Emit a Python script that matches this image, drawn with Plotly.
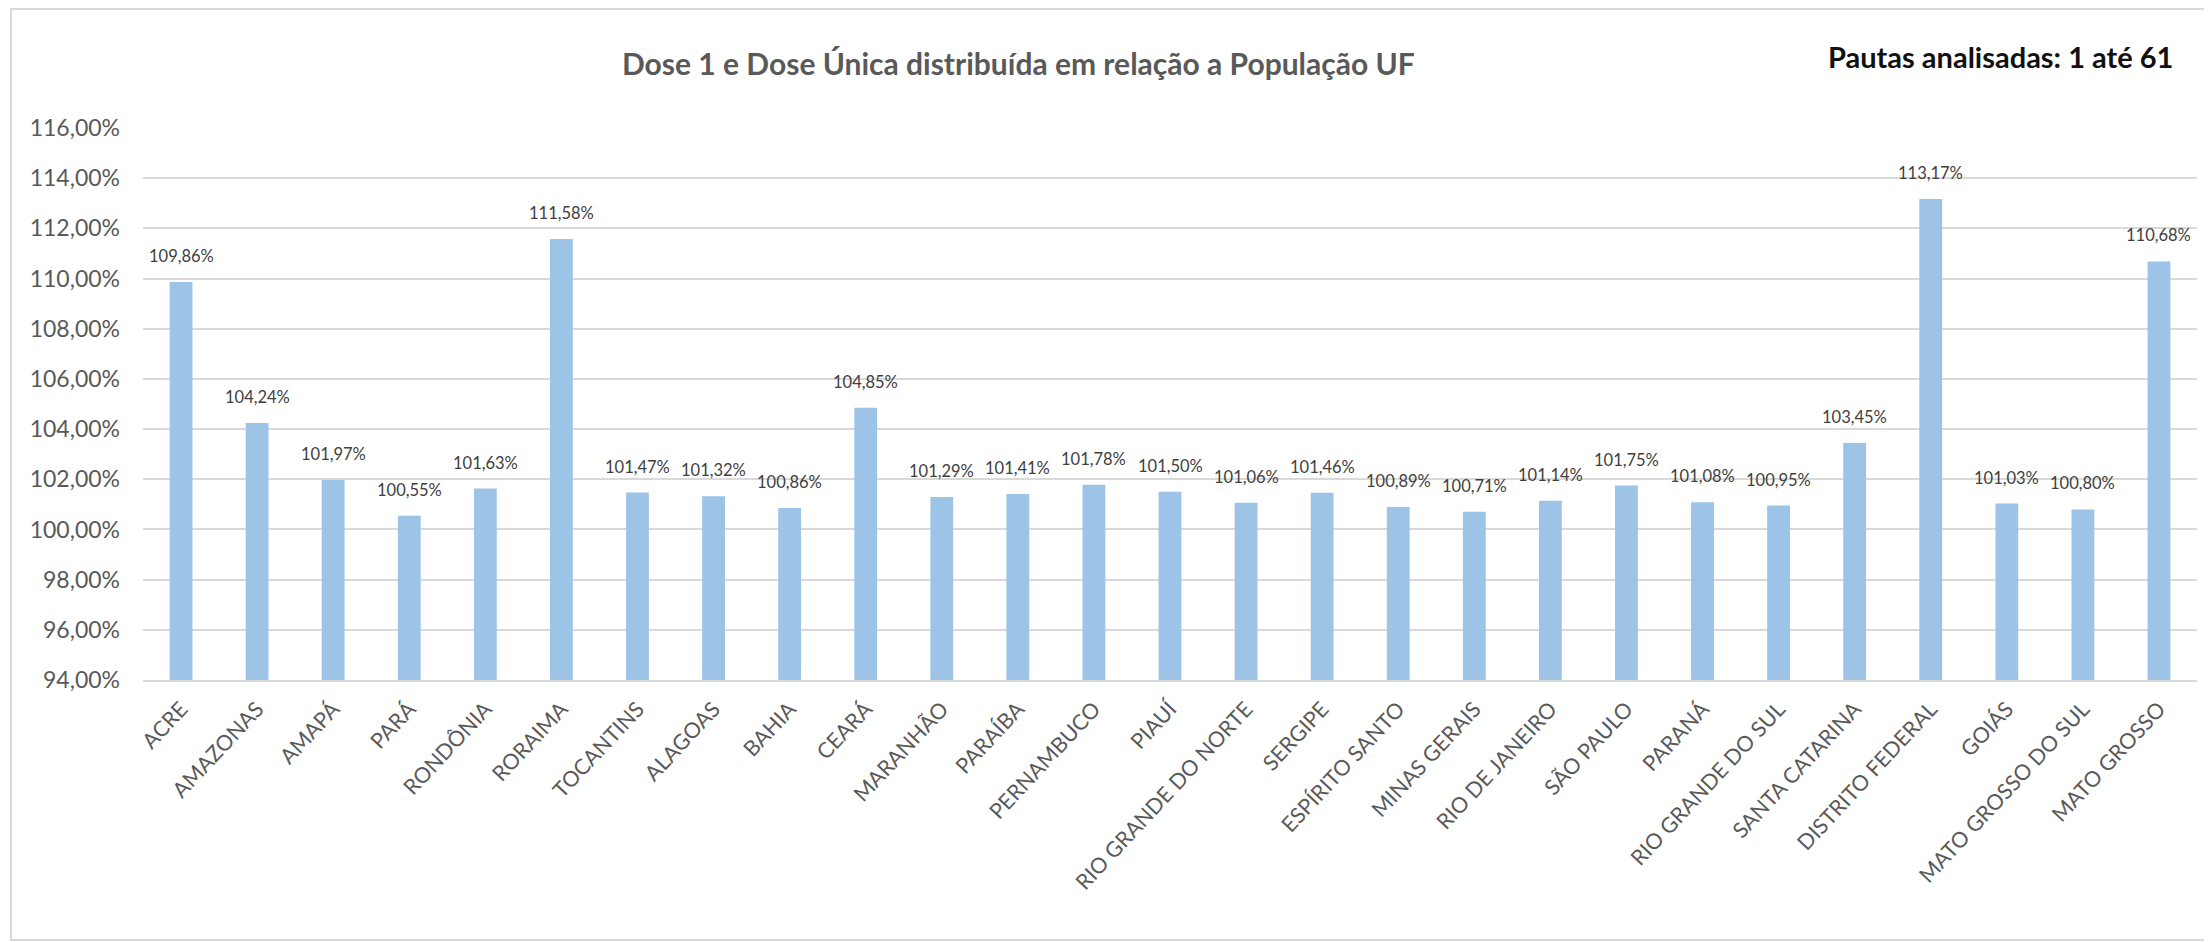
import plotly.graph_objects as go

categories = ["ACRE", "AMAZONAS", "AMAPÁ", "PARÁ", "RONDÔNIA", "RORAIMA", "TOCANTINS",
              "ALAGOAS", "BAHIA", "CEARÁ", "MARANHÃO", "PARAÍBA", "PERNAMBUCO", "PIAUÍ",
              "RIO GRANDE DO NORTE", "SERGIPE", "ESPÍRITO SANTO", "MINAS GERAIS",
              "RIO DE JANEIRO", "SÃO PAULO", "PARANÁ", "RIO GRANDE DO SUL",
              "SANTA CATARINA", "DISTRITO FEDERAL", "GOIÁS", "MATO GROSSO DO SUL",
              "MATO GROSSO"]
values = [109.86, 104.24, 101.97, 100.55, 101.63, 111.58, 101.47,
          101.32, 100.86, 104.85, 101.29, 101.41, 101.78, 101.50,
          101.06, 101.46, 100.89, 100.71,
          101.14, 101.75, 101.08, 100.95,
          103.45, 113.17, 101.03, 100.80,
          110.68]
y_ticks = [94, 96, 98, 100, 102, 104, 106, 108, 110, 112, 114, 116]
y_tick_labels = [f"{t:.2f}".replace(".", ",") + "%" for t in y_ticks]

title_text = "Dose 1 e Dose Única distribuída em relação a População UF"
note_text = "Pautas analisadas: 1 até 61"

OFF = 8  # page body margin
W, H = 2212 - OFF, 942 - OFF
# target pixel positions in the screenshot
PL, PR, PT, PB = 143, 2197, 128, 680
L, T = PL - OFF, PT - OFF
R = (2212 - PR)
B = (942 - PB)
pw, ph = W - L - R, H - T - B

def px_x(p):
    return (p - OFF - L) / pw

def px_y(p):
    return (H - B - (p - OFF)) / ph

FONT = "Lato, 'Open Sans', sans-serif"

fig = go.Figure()
fig.add_trace(go.Bar(
    x=categories, y=values,
    marker=dict(color="#9DC3E6", line=dict(width=0)),
    hoverinfo="x+y",
))

annotations = []
for c, v in zip(categories, values):
    annotations.append(dict(
        x=c, y=v, xref="x", yref="y",
        text=f"{v:.2f}".replace(".", ",") + "%",
        showarrow=False, yanchor="bottom", yshift=14,
        font=dict(family=FONT, size=16.5, color="#404040"),
    ))
annotations.append(dict(
    x=px_x(2175), y=px_y(57), xref="paper", yref="paper",
    xanchor="right", yanchor="middle", text=f"<b>{note_text}</b>",
    showarrow=False, font=dict(family=FONT, size=29, color="#111111"),
))
annotations.append(dict(
    x=px_x(1018), y=px_y(63), xref="paper", yref="paper",
    xanchor="center", yanchor="middle", text=f"<b>{title_text}</b>",
    showarrow=False, font=dict(family=FONT, size=30, color="#595959"),
))

fig.update_layout(
    width=W, height=H,
    margin=dict(l=L, r=R, t=T, b=B, autoexpand=False),
    paper_bgcolor="white", plot_bgcolor="white",
    separators=",.",
    showlegend=False,
    bargap=0.70,
    annotations=annotations,
    shapes=[dict(
        type="rect", xref="paper", yref="paper",
        x0=px_x(11), x1=px_x(2209), y0=px_y(940), y1=px_y(9),
        line=dict(color="#D9D9D9", width=2), layer="below",
    )],
    xaxis=dict(
        tickangle=-47,
        tickfont=dict(family=FONT, size=21.5, color="#595959"),
        showgrid=False, showline=True, linecolor="#D9D9D9", linewidth=2,
        ticks="", fixedrange=True, ticklabelstandoff=6,
    ),
    yaxis=dict(
        range=[94, 116], tickvals=y_ticks, ticktext=y_tick_labels,
        tickfont=dict(family=FONT, size=23, color="#595959"),
        showgrid=True, gridcolor="#D9D9D9", gridwidth=2,
        zeroline=False, showline=False, ticks="",
        ticklabelstandoff=22,
    ),
)

fig.write_html("out.html")
